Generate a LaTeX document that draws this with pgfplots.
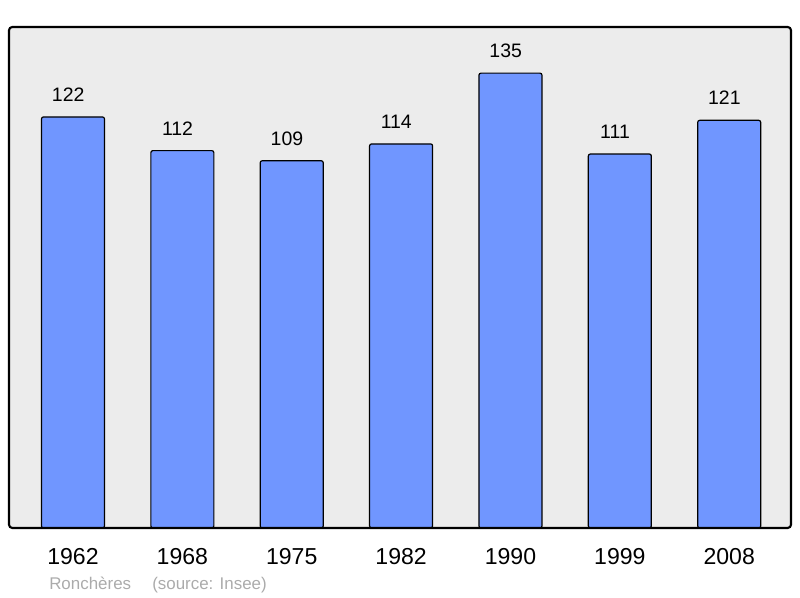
\documentclass[border=0pt]{standalone}
\usepackage{pgfplots}
\pgfplotsset{compat=1.18}
\usepackage{fontspec}
\setmainfont{Liberation Sans}
\definecolor{barblue}{HTML}{7096FF}
\definecolor{bggray}{HTML}{ECECEC}
\definecolor{footgray}{HTML}{ABABAB}
\begin{document}
\begin{tikzpicture}[x=0.75pt,y=0.75pt]
\path[use as bounding box] (0,0) rectangle (800,598);
\begin{axis}[
  at={(9pt*0.75,52.5pt)}, anchor=south west,
  scale only axis,
  width=586.5pt, height=375.75pt,
  xmin=-0.585, xmax=6.565,
  ymin=0, ymax=148.7,
  /pgf/number format/assume math mode=true,
  axis line style={draw=none},
  axis background/.style={fill=bggray},
  ytick=\empty,
  xtick=data,
  xticklabels={1962,1968,1975,1982,1990,1999,2008},
  xtick style={draw=none},
  xticklabel style={font=\fontsize{17.3pt}{20pt}\selectfont, anchor=base, yshift=-23.25pt},
  ybar, bar width=0.576,
  nodes near coords,
  every node near coord/.append style={font=\fontsize{14.6pt}{17pt}\selectfont, anchor=base, yshift=11.7pt, xshift=-3.6pt, text=black},
  clip=false,
]
\addplot[fill=barblue, draw=black, line width=0.9pt, rounded corners=1.5pt, bar shift=0pt] coordinates {
(0,122) (1,112) (2,109) (3,114) (4,135) (5,111) (6,121)};
\draw[line width=1.6pt, rounded corners=2.5pt] (rel axis cs:0,0) rectangle (rel axis cs:1,1);
\end{axis}
\node[anchor=base west, text=footgray, font=\fontsize{12.7pt}{15pt}\selectfont, inner sep=0pt] at (49,8) {Ronchères};
\node[anchor=base west, text=footgray, font=\fontsize{12.7pt}{15pt}\selectfont, inner sep=0pt] at (152,8) {(source: Insee)};
\end{tikzpicture}
\end{document}
